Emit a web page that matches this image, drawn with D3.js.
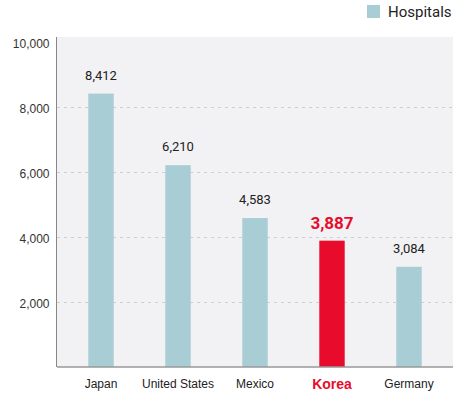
<!DOCTYPE html>
<html>
<head>
<meta charset="utf-8">
<script src="https://cdn.jsdelivr.net/npm/d3@7"></script>
<style>
  body { margin: 0; background: #fff; }
  svg { display: block; font-family: Roboto, 'Noto Sans', sans-serif; }
</style>
</head>
<body>
<div class="chart"></div>
<script>
const countries = ['Japan', 'United States', 'Mexico', 'Korea', 'Germany']
const hospitals = [8412, 6210, 4583, 3887, 3084]
const yTicks = [2000, 4000, 6000, 8000, 10000]
const highlight = 'Korea'

const width = 468
const height = 394
const plot = { left: 57, right: 453, top: 37, bottom: 367 }

const barColor = '#a9cdd5'
const redColor = '#e90b2c'

const x = d3.scaleBand()
  .domain(countries)
  .range([62.5, 447.5])
  .paddingInner(0.67)
  .paddingOuter(0.335)

const y = d3.scaleLinear()
  .domain([0, 10000])
  .range([plot.bottom, 42])

const svg = d3.select('.chart')
  .append('svg')
  .attr('width', width)
  .attr('height', height)

// plot background
svg.append('rect')
  .attr('x', plot.left)
  .attr('y', plot.top)
  .attr('width', plot.right - plot.left)
  .attr('height', plot.bottom - plot.top)
  .attr('fill', '#f2f2f4')

// dashed grid lines
svg.append('g')
  .selectAll('line')
  .data(yTicks.filter(d => d < 10000))
  .enter()
  .append('line')
  .attr('x1', plot.left)
  .attr('x2', plot.right)
  .attr('y1', d => Math.round(y(d)) + 0.5)
  .attr('y2', d => Math.round(y(d)) + 0.5)
  .attr('stroke', '#cfcfd3')
  .attr('stroke-dasharray', '3,4')

// y axis
const yAxis = d3.axisLeft(y)
  .tickValues(yTicks)
  .tickFormat(d3.format(','))
  .tickSize(0)
  .tickPadding(7)

const yg = svg.append('g')
  .attr('transform', 'translate(' + (plot.left - 0.5) + ',0)')
  .call(yAxis)
yg.select('.domain')
  .attr('d', 'M0,' + plot.top + 'V' + plot.bottom)
  .attr('stroke', '#888')
yg.selectAll('text')
  .attr('font-size', 12)
  .attr('fill', '#333')
  .attr('dy', '0.45em')

// bars
const data = countries.map((c, i) => ({ name: c, value: hospitals[i] }))

svg.append('g')
  .selectAll('rect')
  .data(data)
  .enter()
  .append('rect')
  .attr('x', d => x(d.name))
  .attr('y', d => y(d.value))
  .attr('width', x.bandwidth())
  .attr('height', d => plot.bottom - y(d.value))
  .attr('fill', d => d.name === highlight ? redColor : barColor)

// value labels
svg.append('g')
  .selectAll('text')
  .data(data)
  .enter()
  .append('text')
  .attr('x', d => x(d.name) + x.bandwidth() / 2)
  .attr('y', d => y(d.value) - (d.name === highlight ? 12 : 14))
  .attr('text-anchor', 'middle')
  .attr('font-size', d => d.name === highlight ? 17 : 13)
  .attr('font-weight', d => d.name === highlight ? 'bold' : 'normal')
  .attr('fill', d => d.name === highlight ? redColor : '#222')
  .text(d => d3.format(',')(d.value))

// x axis
const xAxis = d3.axisBottom(x).tickSize(0).tickPadding(12)
const xg = svg.append('g')
  .attr('transform', 'translate(0,' + plot.bottom + ')')
  .call(xAxis)
xg.select('.domain')
  .attr('d', 'M' + plot.left + ',0H' + plot.right)
  .attr('stroke', '#999')
  .attr('stroke-width', 1.5)
xg.selectAll('text')
  .attr('font-size', 12)
  .attr('fill', d => d === highlight ? redColor : '#222')
  .attr('font-weight', d => d === highlight ? 'bold' : 'normal')
  .attr('font-size', d => d === highlight ? 14 : 12)

// legend
const legend = svg.append('g').attr('transform', 'translate(367,5)')
legend.append('rect')
  .attr('width', 13)
  .attr('height', 13)
  .attr('fill', barColor)
legend.append('text')
  .attr('x', 21)
  .attr('y', 12)
  .attr('font-size', 15)
  .attr('fill', '#222')
  .text('Hospitals')
</script>
</body>
</html>
